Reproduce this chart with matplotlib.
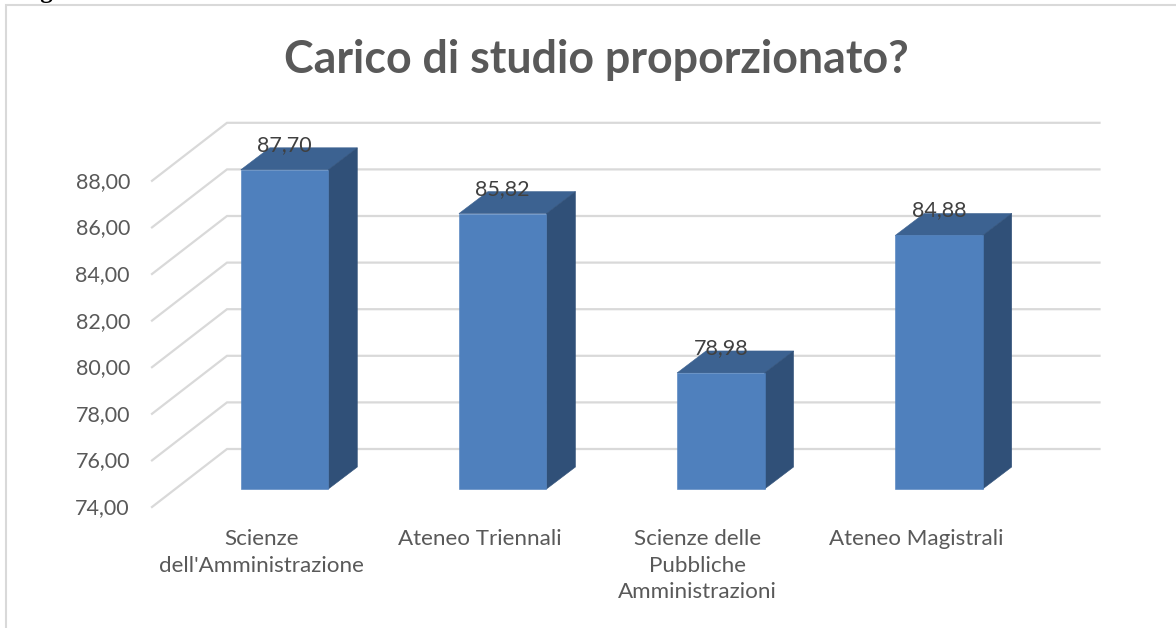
import matplotlib
matplotlib.use("Agg")
import matplotlib.pyplot as plt
from matplotlib.patches import Polygon, Rectangle

# data
categories = ["Scienze\ndell'Amministrazione", "Ateneo Triennali",
              "Scienze delle\nPubbliche\nAmministrazioni", "Ateneo Magistrali"]
values = [87.70, 85.82, 78.98, 84.88]
ticks = [74, 76, 78, 80, 82, 84, 86, 88]
title = "Carico di studio proporzionato?"

W, H = 1176, 628
plt.rcParams['font.family'] = ['Lato', 'DejaVu Sans']

def comma(v):
    return format(v, '.2f').replace('.', ',')

fig = plt.figure(figsize=(W / 100, H / 100), dpi=100)

# chart frame, cut off by the page on the right and at the bottom
fig.add_artist(Rectangle((6 / W, -0.02), 1.1, 1 - 5 / H + 0.02, transform=fig.transFigure,
                         fc='white', ec='#d9d9d9', lw=1.5, zorder=-1))
fig.text(19 / W, 1 + 2 / H, "Figura", family='Liberation Serif', fontweight='bold',
         fontsize=18, color='black', va='baseline')

# axes = the plane of the bar fronts
left, right, bottom, top = 175.5, 1048, 489, 116.2
ax = fig.add_axes([left / W, 1 - bottom / H, (right - left) / W, (bottom - top) / H])
ax.set_xlim(-0.5, 3.5)
ax.set_ylim(74, 90)
ax.axis('off')

xunit = (right - left) / 4     # pixels per category
yunit = (bottom - top) / 16    # pixels per y unit
bar_w = 87.5 / xunit
# bar depth, and how far the walls sit behind/in front of the bars
dep_x, dep_y = 29 / xunit, 22 / yunit
back_x, back_y = 51.5 / xunit, 40 / yunit
front_x, front_y = -23.5 / xunit, -18 / yunit

grid_c = '#d9d9d9'
for t in ticks:
    ax.plot([-0.5 + front_x, -0.5 + back_x, 3.5 + back_x],
            [t + front_y, t + back_y, t + back_y],
            color=grid_c, lw=1.6, clip_on=False, zorder=1, solid_joinstyle='miter')
    ax.annotate(comma(t), (-0.5 + front_x, t + front_y), xytext=(-22, -1),
                textcoords='offset pixels', ha='right', va='center',
                fontsize=15.5, color='#595959', annotation_clip=False)

for i, v in enumerate(values):
    x0, x1 = i - bar_w / 2, i + bar_w / 2
    ax.add_patch(Polygon([(x0, v), (x1, v), (x1 + dep_x, v + dep_y), (x0 + dep_x, v + dep_y)],
                         fc='#3c6291', ec='#3c6291', lw=0.4, clip_on=False, zorder=3))
    ax.add_patch(Polygon([(x1, 74), (x1 + dep_x, 74 + dep_y), (x1 + dep_x, v + dep_y), (x1, v)],
                         fc='#305078', ec='#305078', lw=0.4, clip_on=False, zorder=3))
    ax.add_patch(Polygon([(x0, 74), (x1, 74), (x1, v), (x0, v)], fc='#4f80bd', ec='#4f80bd', lw=0.4,
                         clip_on=False, zorder=3))
    ax.annotate(comma(v), (i, v), xytext=(0, 25), textcoords='offset pixels', ha='center',
                va='center', fontsize=15.5, color='#404040', zorder=4, annotation_clip=False)
    ax.annotate(categories[i], (i, 74), xytext=(-23, -40), textcoords='offset pixels',
                ha='center', va='top', fontsize=16.1, color='#595959', linespacing=1.42,
                annotation_clip=False)

fig.text(596 / W, 1 - 60 / H, title, ha='center', va='center', fontsize=32.2,
         fontweight='bold', color='#595959')

fig.savefig("out.png", dpi=100)
